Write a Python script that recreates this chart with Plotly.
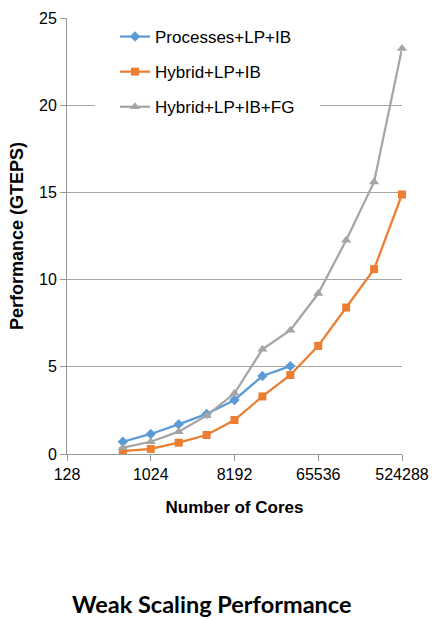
import plotly.graph_objects as go
import math

cores_all = [512, 1024, 2048, 4096, 8192, 16384, 32768, 65536, 131072, 262144, 524288]
cores_proc = [512, 1024, 2048, 4096, 8192, 16384, 32768]
processes_lp_ib = [0.70, 1.15, 1.70, 2.30, 3.10, 4.47, 5.04]
hybrid_lp_ib = [0.17, 0.29, 0.65, 1.09, 1.95, 3.30, 4.53, 6.20, 8.40, 10.60, 14.88]
hybrid_lp_ib_fg = [0.36, 0.70, 1.28, 2.20, 3.48, 6.00, 7.10, 9.20, 12.26, 15.60, 23.25]
x_ticks = [128, 1024, 8192, 65536, 524288]
x_tick_labels = ["128", "1024", "8192", "65536", "524288"]

series = [
    ("Processes+LP+IB", cores_proc, processes_lp_ib, "#5B9BD5", "diamond", 8),
    ("Hybrid+LP+IB", cores_all, hybrid_lp_ib, "#ED7D31", "square", 8),
    ("Hybrid+LP+IB+FG", cores_all, hybrid_lp_ib_fg, "#A5A5A5", "triangle-up", 9),
]

fig = go.Figure()
for i, (name, xs, ys, col, sym, sz) in enumerate(series):
    fig.add_trace(go.Scatter(
        x=xs, y=ys, name=name, mode="lines+markers",
        line=dict(color=col, width=2.25),
        marker=dict(symbol=sym, size=sz, color=col),
        legendgroup="g%d" % i, cliponaxis=False,
    ))

FONT = "Liberation Sans, Arial, sans-serif"
axis_font = dict(family=FONT, size=16, color="#000000")
L, R, T, B = 67, 30, 18, 165
W, H = 432, 619
pw, ph = W - L - R, H - T - B

def px(xp):
    return (xp - L) / pw

def py(yp):
    return (H - B - yp) / ph

fig.update_layout(
    width=W, height=H,
    margin=dict(l=L, r=R, t=T, b=B, autoexpand=False),
    paper_bgcolor="white", plot_bgcolor="white",
    font=axis_font,
    showlegend=True,
    legend=dict(
        x=px(115), y=py(19), xanchor="left", yanchor="top",
        bgcolor="rgba(0,0,0,0)", font=dict(family=FONT, size=17, color="#000"),
        tracegroupgap=10, itemwidth=30,
    ),
    shapes=[dict(
        type="rect", xref="paper", yref="paper", layer="above",
        x0=px(95), x1=px(320), y0=py(124), y1=py(26),
        fillcolor="white", line=dict(width=0),
    )],
    xaxis=dict(
        type="log", range=[math.log10(128), math.log10(524288)],
        tickvals=x_ticks, ticktext=x_tick_labels,
        showgrid=False, showline=True, linecolor="#999999", linewidth=1,
        ticks="outside", ticklen=6, tickcolor="#999999",
        tickfont=axis_font, zeroline=False, automargin=False,
        title=dict(text="<b>Number of Cores</b>", font=dict(family=FONT, size=17, color="#000"), standoff=18),
    ),
    yaxis=dict(
        range=[0, 25], tickvals=[0, 5, 10, 15, 20, 25],
        showgrid=True, gridcolor="#A6A6A6", gridwidth=1,
        showline=True, linecolor="#999999", linewidth=1,
        ticks="outside", ticklen=6, tickcolor="#999999",
        tickfont=axis_font, zeroline=False, automargin=False,
        title=dict(text="<b>Performance (GTEPS)</b>", font=dict(family=FONT, size=18, color="#000"), standoff=10),
    ),
    annotations=[dict(
        text="<b>Weak Scaling Performance</b>", xref="paper", yref="paper",
        x=px(212), y=py(604), xanchor="center", yanchor="middle",
        showarrow=False, font=dict(family="Lato, Open Sans, sans-serif", size=23.5, color="#000"),
    )],
)

fig.write_html("out.html")
